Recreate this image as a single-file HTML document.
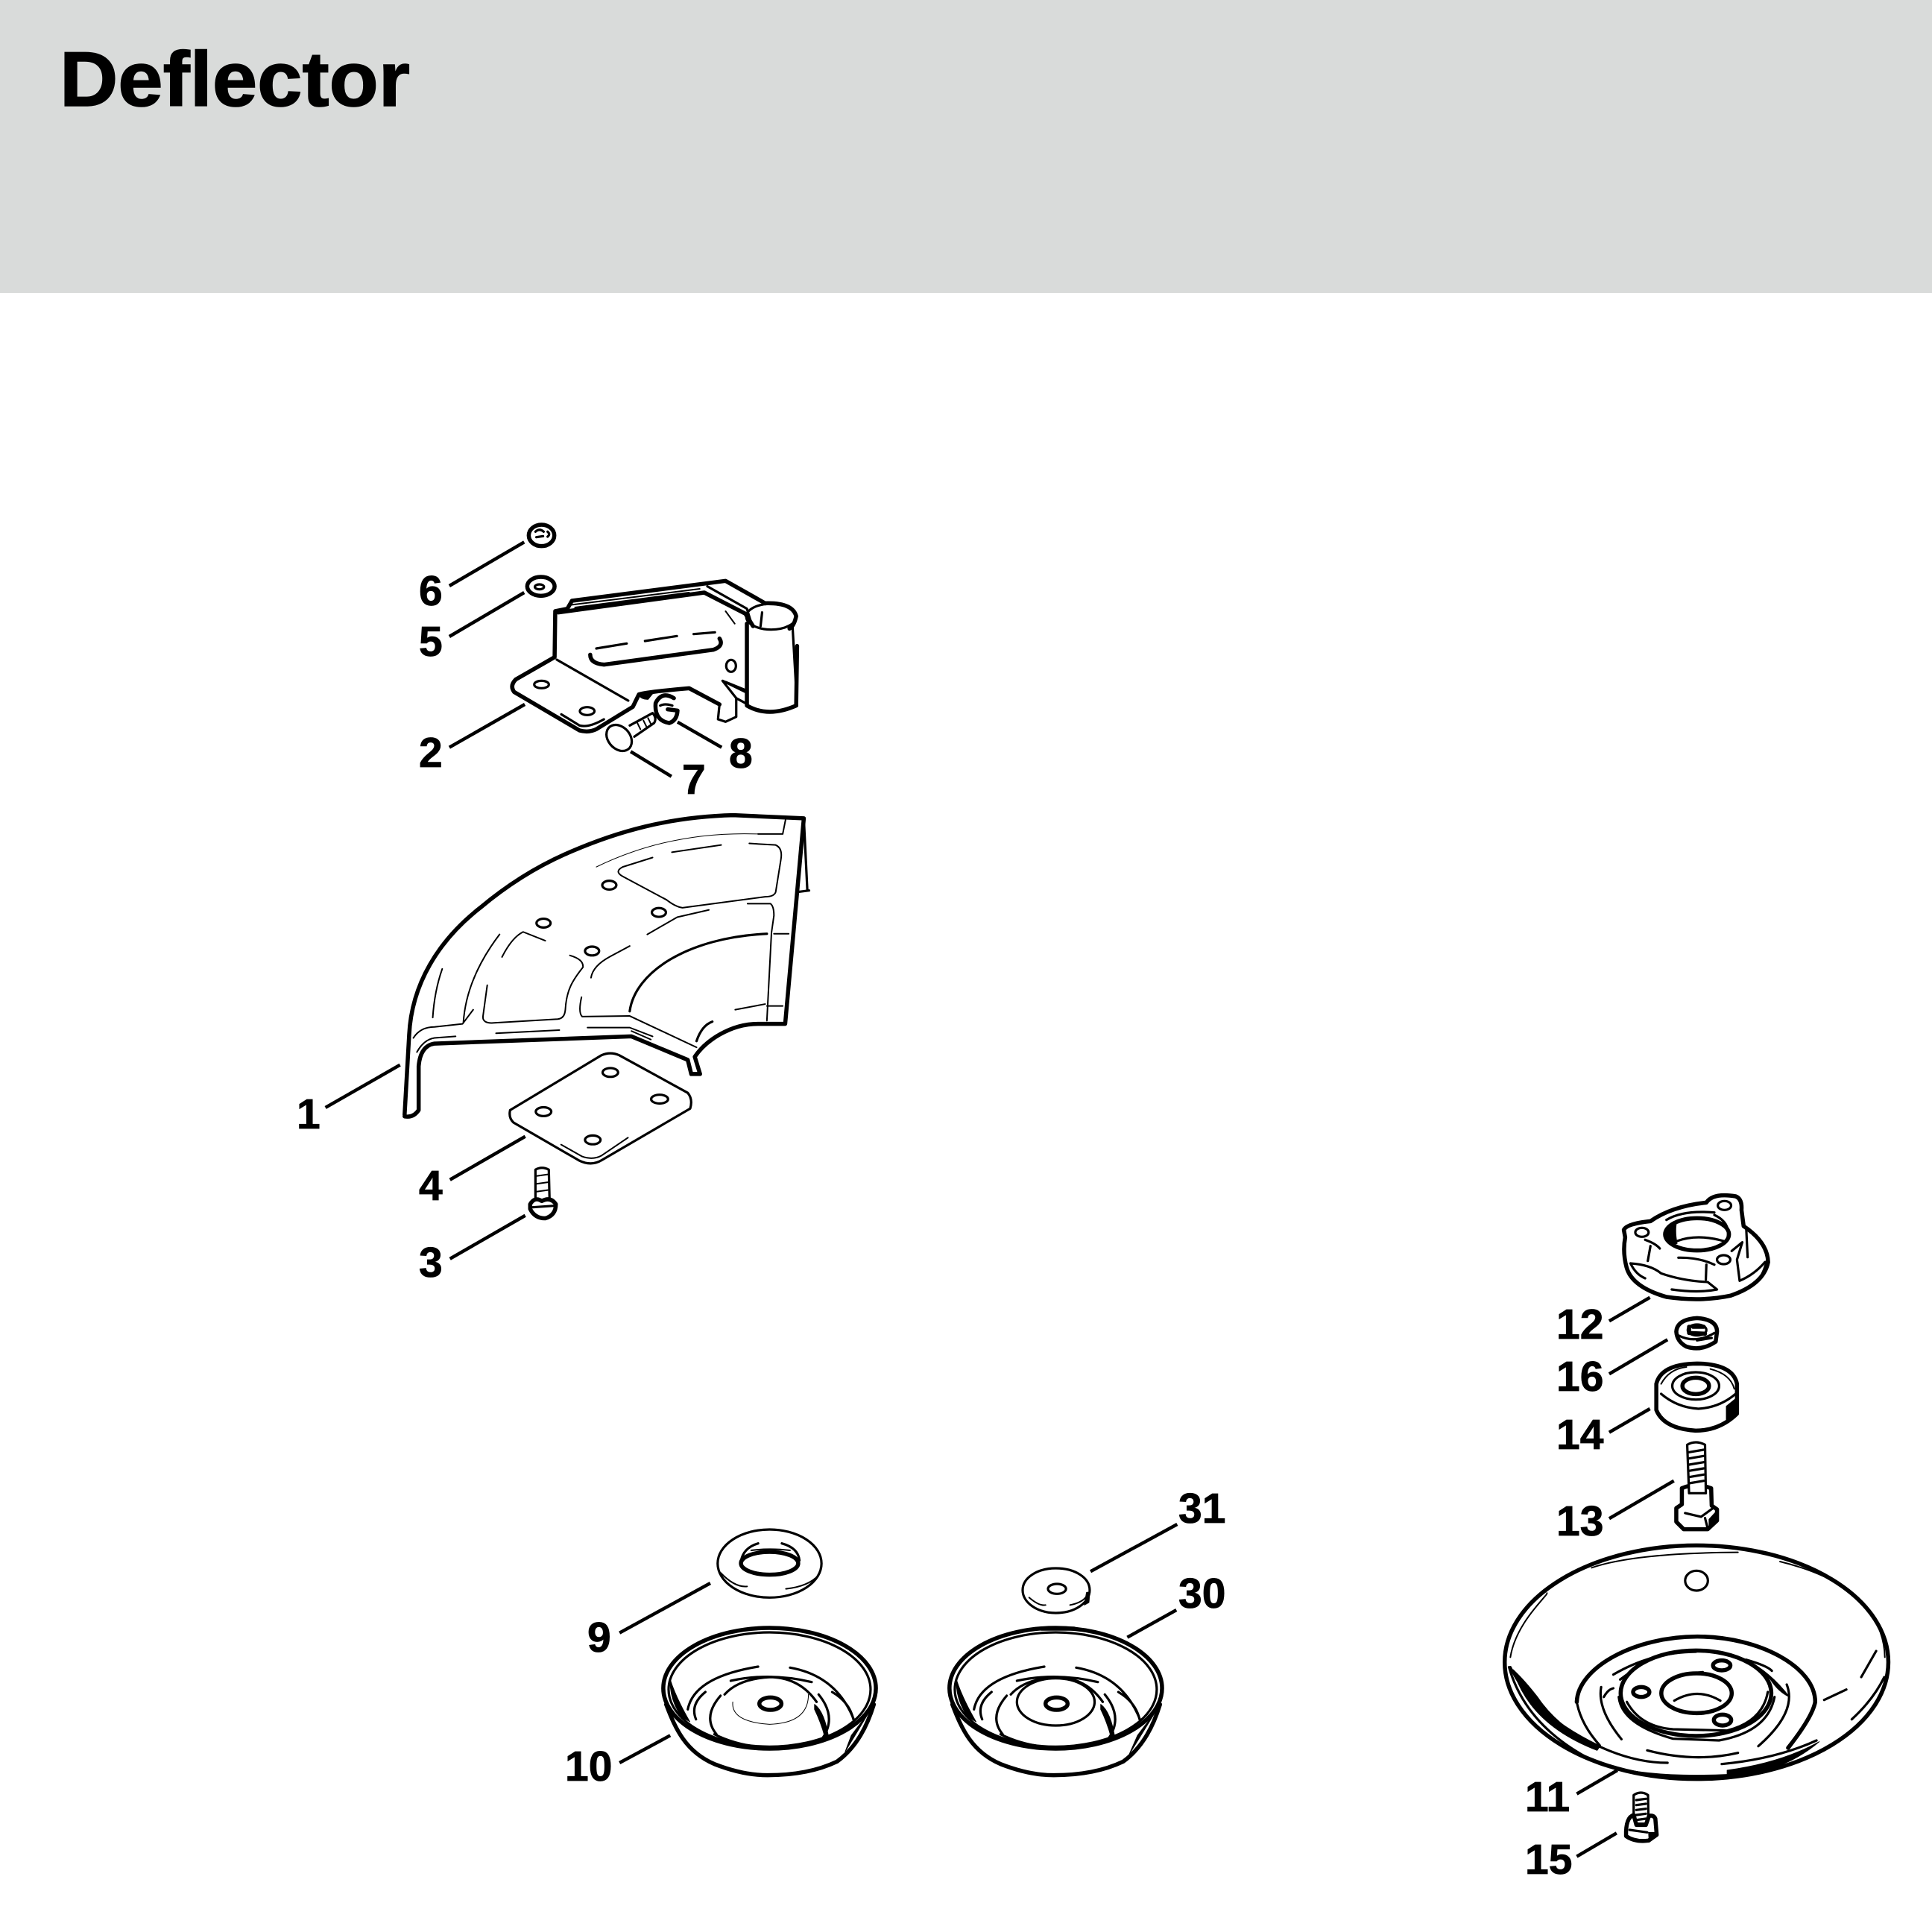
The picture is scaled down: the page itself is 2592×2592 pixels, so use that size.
<!DOCTYPE html>
<html><head><meta charset="utf-8"><style>
html,body{margin:0;padding:0;background:#fff}
svg{display:block}
path,ellipse,line,circle{vector-effect:non-scaling-stroke;fill:none;stroke:#000;stroke-width:3.2;stroke-linecap:round;stroke-linejoin:round}
.w{fill:#fff}
.l{stroke-width:4.5;stroke-linecap:butt}
.t{stroke-width:5.5}
.n{stroke-width:2}
.h{stroke-width:1}
.b{fill:#000;stroke-width:1}
text{font-family:"Liberation Sans",sans-serif;font-weight:700;font-size:57px;fill:#000;stroke:#000;stroke-width:.8px}
</style></head><body>
<svg width="2592" height="2592" viewBox="0 0 2592 2592" xmlns="http://www.w3.org/2000/svg">
<rect width="2592" height="2592" fill="#fff"/>
<rect width="2592" height="393" fill="#d9dbda"/>
<text x="80" y="142" textLength="470" lengthAdjust="spacingAndGlyphs" style="font-size:104px;stroke-width:1.5px">Deflector</text>

<!-- Bracket group -->
<g transform="translate(500 680) scale(.40816 .33333)">
<path class="l" d="M252,318L498,142M252,522L498,345M252,968L500,795M1002,866L1147,968M848,985L982,1085"/>
<ellipse class="t" cx="555" cy="115" rx="42" ry="43"/>
<path d="M535,100Q548,85 562,100M575,100Q585,110 575,120M538,122L560,118"/>
<ellipse class="t" cx="553" cy="320" rx="45" ry="38"/>
<ellipse cx="548" cy="322" rx="15" ry="10"/>
<path class="t" d="M1230,470L1230,800Q1300,850 1392,800L1395,560"/>
<path class="t" d="M600,420L640,410L655,378L1160,298L1290,388"/>
<path class="t" d="M610,425L1090,345L1225,430L1250,480"/>
<ellipse cx="1310" cy="442" rx="82" ry="52"/>
<path class="t" d="M1290,388Q1380,385 1392,440Q1385,480 1370,490"/>
<path d="M1380,480L1395,800M1280,425L1275,480M1100,320L1230,410L1245,470"/>
<path class="n" d="M650,395L1075,330M665,405L1040,345M1160,420L1190,470"/>
<path class="t" d="M600,425L598,605L470,695Q450,720 465,745L680,900Q710,910 735,895L855,805L875,755Q900,745 1040,730L1140,795"/>
<path d="M605,615L840,780M620,835L680,880Q710,890 760,855"/>
<path d="M1140,795L1135,855L1160,865L1195,845L1195,770L1150,700L1225,745M1195,770L1225,790M1160,705L1230,740"/>
<path d="M735,570L835,550M895,540L1000,520M1055,512L1125,505"/>
<path class="t" d="M1140,530Q1155,560 1120,575L760,635Q715,630 715,595"/>
<ellipse cx="1178" cy="640" rx="16" ry="24"/>
<ellipse cx="555" cy="715" rx="24" ry="15"/>
<ellipse cx="705" cy="822" rx="24" ry="16"/>
<path class="b" d="M875,755Q900,745 925,745L905,775Q880,775 875,755z"/>
<path class="w" d="M845,880L920,830Q935,850 925,870L860,925"/>
<path class="n" d="M870,870L880,895M890,860L900,885M905,850L915,875"/>
<ellipse class="w" cx="810" cy="930" rx="38" ry="55" transform="rotate(-25 810 930)"/>
<path class="t" d="M990,770Q950,740 930,790Q925,860 975,870Q1000,860 1002,820L970,815"/>
<path d="M945,800Q960,790 985,800"/>
</g>

<!-- Deflector shield group -->
<g transform="translate(380 1060) scale(.47190 .42090)">
<path class="l" d="M120,1012L332,876M474,1242L688,1104M474,1494L688,1356"/>
<path class="t" d="M345,1035L358,780C365,620 440,480 560,375C640,300 720,245 800,205C950,130 1100,85 1280,80L1480,90L1427,745L1350,745C1270,745 1200,800 1170,850L1185,905L1160,905L1150,860L990,785L430,808Q390,815 385,880L385,1020Q370,1045 345,1040"/>
<path d="M1480,90L1490,320M1460,325L1495,320"/>
<path class="n" d="M1428,95L1420,140L1350,140M1325,170L1400,175Q1420,185 1415,220L1400,325Q1395,340 1370,340L1135,375Q1115,372 1090,350L965,275Q940,260 965,245L1050,215M1105,198L1245,175"/>
<path class="n" d="M1035,460L1120,405L1210,382M1320,362L1385,362Q1395,370 1395,400L1388,455L1375,735M1395,458L1437,458M1375,688L1420,688M1285,700L1370,682"/>
<path d="M985,705C1000,580 1150,470 1375,458M1175,800Q1190,750 1220,738"/>
<path class="n" d="M622,532Q650,470 682,452L745,480M580,622L568,720Q565,745 600,742L780,730Q800,728 802,700C805,640 820,610 852,565Q855,540 815,527M875,598Q880,560 930,530L985,497"/>
<path class="n" d="M425,725Q430,640 452,570M512,742Q520,600 615,460M370,790Q390,755 430,755L510,745L540,700M380,835Q400,795 430,790L490,785"/>
<path class="h" d="M890,245Q1100,130 1350,140"/>
<path class="n" d="M605,775L785,765M865,757L985,757L1050,785M848,660Q838,710 850,722L985,720L1175,820M990,768L1045,795"/>
<ellipse cx="927" cy="303" rx="20" ry="14"/>
<ellipse cx="1068" cy="390" rx="20" ry="14"/>
<ellipse cx="740" cy="424" rx="20" ry="14"/>
<ellipse cx="878" cy="513" rx="20" ry="14"/>
<path class="w" d="M905,845Q930,833 955,845L1150,965Q1165,985 1157,1015L905,1180Q875,1200 840,1180L655,1060Q640,1045 645,1020Z"/>
<path class="n" d="M790,1130L850,1168Q880,1180 905,1165L980,1108"/>
<ellipse cx="930" cy="900" rx="22" ry="14"/>
<ellipse cx="1070" cy="985" rx="24" ry="14"/>
<ellipse cx="740" cy="1025" rx="22" ry="14"/>
<ellipse cx="880" cy="1115" rx="22" ry="14"/>
<path class="w" d="M717,1300L717,1210Q735,1198 755,1210L757,1300"/>
<path class="n" d="M720,1230L752,1225M720,1255L752,1250M720,1280L752,1275"/>
<path class="w t" d="M702,1320Q715,1295 735,1310Q760,1295 775,1320Q775,1355 745,1365Q715,1365 702,1335z"/>
<path d="M705,1330L770,1325"/>
</g>

<!-- Cups group -->
<g transform="translate(750 2020) scale(.54850 .33333)">
<path class="l" d="M148,512L370,312M148,1035L272,925M1300,265L1512,75M1390,530L1510,420"/>
<!-- washer 9 -->
<ellipse class="w" cx="515" cy="233" rx="127" ry="137"/>
<path class="n" d="M395,270Q430,330 460,325M555,335Q610,325 635,280"/>
<ellipse class="t" cx="515" cy="232" rx="70" ry="46"/>
<path d="M445,225Q450,170 487,152M545,152Q585,170 588,220"/>
<path class="n" d="M470,180Q515,170 565,180"/>
<!-- washer 31 -->
<path class="w" d="M1134,340C1134,290 1170,252 1215,252C1262,252 1298,290 1298,340C1298,390 1262,432 1215,432C1170,432 1134,390 1134,340z"/>
<ellipse cx="1218" cy="335" rx="22" ry="20"/>
<path class="n" d="M1150,370Q1175,405 1190,400M1250,400Q1280,390 1290,365"/>
<path class="b" d="M1290,350Q1300,340 1296,390L1285,400z"/>
<!-- cup 10 -->
<path class="t" d="M262,800C285,900 310,990 380,1040Q450,1085 510,1085Q610,1085 680,1030C730,970 755,880 770,800"/>
<ellipse class="w t" cx="515" cy="735" rx="260" ry="243"/>
<ellipse cx="515" cy="740" rx="247" ry="230"/>
<path class="b" d="M272,700Q285,770 320,870L300,850Q270,780 272,700z"/>
<path class="b" d="M755,840L700,990L715,925Q735,880 755,840z"/>
<path d="M315,820Q330,690 487,648M565,652Q680,685 722,865M420,705Q515,670 618,710M358,750Q320,800 335,860M668,750Q710,790 720,860M395,765Q350,850 385,920M635,760Q680,850 645,935"/>
<path d="M405,760Q440,695 520,690Q590,695 630,790"/>
<ellipse class="t" cx="517" cy="797" rx="27" ry="25"/>
<path class="h" d="M425,790Q420,870 515,880Q610,875 610,760"/>
<path class="b" d="M625,800Q650,830 660,940L650,930Q640,870 625,820z"/>
<path d="M380,920Q440,970 520,975Q600,970 660,930"/>
<!-- cup 30 -->
<path class="t" d="M962,800C985,900 1010,990 1080,1040Q1150,1085 1210,1085Q1310,1085 1380,1030C1430,970 1455,880 1470,800"/>
<ellipse class="w t" cx="1215" cy="735" rx="260" ry="243"/>
<ellipse cx="1215" cy="740" rx="247" ry="230"/>
<path class="b" d="M972,700Q985,770 1020,870L1000,850Q970,780 972,700z"/>
<path class="b" d="M1455,840L1395,1000L1415,925Q1435,880 1455,840z"/>
<path d="M1015,820Q1030,690 1187,648M1265,652Q1380,685 1422,865M1120,705Q1215,670 1318,710M1058,750Q1020,800 1035,860M1368,750Q1410,790 1420,860M1095,765Q1050,850 1085,920M1335,760Q1380,850 1345,935"/>
<path d="M1105,760Q1140,695 1220,690Q1290,695 1330,790"/>
<ellipse cx="1215" cy="790" rx="95" ry="95"/>
<ellipse class="t" cx="1217" cy="797" rx="27" ry="25"/>
<path class="b" d="M1325,800Q1350,830 1360,940L1350,930Q1340,870 1325,820z"/>
<path d="M1080,920Q1140,970 1220,975Q1300,970 1360,930"/>
<path class="t" d="M1180,495L1260,495"/>
</g>

<!-- Right stack group -->
<g transform="translate(2000 1580) scale(.35714 .33333)">
<path class="l" d="M445,577L598,482M445,790L664,652M445,1025L598,930M445,1372L688,1220"/>
<!-- flange 12 -->
<path class="t" d="M500,210Q510,185 600,175Q680,115 810,100Q835,60 920,75Q945,85 942,130L950,195Q1040,260 1042,340Q1025,430 900,475Q790,500 660,480Q530,440 510,360Q495,300 505,240z"/>
<ellipse class="t" cx="775" cy="228" rx="120" ry="65"/>
<path class="b" d="M700,170Q650,200 655,235Q670,270 700,265Q690,210 700,170z"/>
<path d="M700,255Q775,225 875,255"/>
<path d="M660,170Q720,130 840,140M840,150Q900,180 890,240"/>
<ellipse cx="568" cy="220" rx="25" ry="18"/>
<ellipse cx="878" cy="112" rx="25" ry="18"/>
<ellipse cx="875" cy="330" rx="25" ry="18"/>
<path d="M580,250Q620,265 635,285M600,275L590,335M525,345Q600,350 640,385Q720,415 815,420L850,450Q780,465 680,450M525,345Q545,390 580,405M705,322Q780,320 840,350M810,350L808,410M905,295L945,260L925,330L935,415Q990,390 1030,340M960,210L965,320"/>
<path class="b" d="M1040,300Q1045,340 1015,390Q1035,345 1040,300z"/>
<!-- 16 -->
<path class="t" d="M697,620Q700,570 775,565Q850,570 850,620L845,660Q790,700 735,680Q700,660 697,620z"/>
<ellipse cx="775" cy="613" rx="35" ry="22"/>
<path class="t" d="M745,600L745,625L805,628M760,600L800,600"/>
<path d="M705,635Q770,670 840,625M775,655L830,645"/>
<!-- 14 -->
<path class="t" d="M622,830Q640,750 775,748Q910,750 925,830L925,950Q860,1018 770,1018Q650,1010 622,935z"/>
<path class="n" d="M640,830Q670,770 735,762M825,770Q900,790 915,850"/>
<path d="M640,870Q700,925 780,930Q860,925 920,870"/>
<ellipse cx="770" cy="838" rx="88" ry="55"/>
<ellipse class="t" cx="770" cy="838" rx="50" ry="33"/>
<path class="b" d="M885,920L925,885L925,955L885,985z"/>
<!-- 13 -->
<path class="w t" d="M718,1250Q770,1225 828,1250L830,1320L850,1335L850,1380L815,1415L725,1415L697,1385L697,1330L718,1315Z"/>
<path class="w" d="M738,1075Q770,1055 805,1075L808,1270L745,1270z"/>
<path d="M745,1105L800,1095M745,1130L800,1120M745,1155L800,1145M745,1180L800,1170M745,1205L800,1195M745,1230L800,1220"/>
<path d="M730,1350L790,1365L835,1330M805,1370L815,1412"/>
<path class="b" d="M820,1375L850,1340L850,1375L820,1410z"/>
</g>

<!-- Dish group -->
<g transform="translate(1990 2050) scale(.36350 .33333)">
<path class="l" d="M345,1070L495,975M345,1322L492,1228"/>
<ellipse class="t" cx="787" cy="540" rx="708" ry="470"/>
<path class="n" d="M100,520C120,380 240,270 235,262M400,160Q560,100 940,98M1095,135Q1300,190 1400,300Q1480,400 1482,520"/>
<path d="M100,560Q180,750 430,880Q560,945 680,945"/>
<path d="M95,560Q160,810 430,950Q600,1010 900,995"/>
<path class="b" d="M110,570Q150,610 200,680Q280,810 430,880L420,895Q170,790 110,570z"/>
<path class="b" d="M900,975Q1100,945 1240,860Q1100,990 900,998z"/>
<path d="M1360,770Q1440,690 1480,600M1258,692L1340,650M1395,600L1450,495M880,950Q1080,930 1230,855"/>
<path class="t" d="M345,700C350,560 560,437 790,437C1020,437 1225,560 1225,700Q1215,760 1125,885"/>
<path d="M345,700Q360,790 430,875M435,640Q420,730 510,850M1120,630Q1160,740 1015,878M605,895Q780,945 940,905"/>
<ellipse class="t" cx="785" cy="665" rx="278" ry="172"/>
<path d="M500,680Q510,790 700,848L870,855Q1050,820 1075,680M530,700Q580,800 700,810L900,815Q1030,780 1050,660"/>
<path d="M480,590Q620,500 785,498M970,530Q1050,555 1065,575M445,680Q460,650 480,645M505,610L530,590"/>
<path class="b" d="M970,530Q1060,580 1130,680Q1090,660 1060,610Q1020,560 970,530z"/>
<ellipse class="t" cx="787" cy="665" rx="130" ry="80"/>
<path d="M705,695Q790,640 875,695M665,640Q700,590 810,580"/>
<ellipse class="w" cx="787" cy="212" rx="42" ry="40"/>
<ellipse class="t" cx="880" cy="553" rx="32" ry="20"/>
<ellipse class="t" cx="583" cy="660" rx="30" ry="20"/>
<ellipse class="t" cx="883" cy="773" rx="32" ry="22"/>
<path class="w" d="M555,1190L555,1075Q582,1055 608,1075L610,1190z"/>
<path d="M565,1095L600,1090M565,1115L600,1110M565,1135L600,1130M565,1155L600,1150M565,1175L600,1170"/>
<path class="w t" d="M555,1155Q525,1165 527,1240Q560,1265 610,1258L640,1235L635,1170Q630,1155 612,1158L600,1195L565,1195z"/>
<path d="M540,1215L605,1225"/>
<path class="b" d="M610,1225L640,1225L640,1240L612,1258z"/>
</g>

<!-- Labels -->
<text x="562" y="812">6</text>
<text x="562" y="880">5</text>
<text x="562" y="1029">2</text>
<text x="978" y="1030">8</text>
<text x="915" y="1065">7</text>
<text x="398" y="1514">1</text>
<text x="562" y="1610">4</text>
<text x="562" y="1713">3</text>
<text x="788" y="2216">9</text>
<text x="758" y="2389">10</text>
<text x="1581" y="2043">31</text>
<text x="1581" y="2157">30</text>
<text x="2088" y="1796">12</text>
<text x="2088" y="1866">16</text>
<text x="2088" y="1944">14</text>
<text x="2088" y="2060">13</text>
<text x="2046" y="2430">11</text>
<text x="2046" y="2514">15</text>
</svg>
</body></html>
